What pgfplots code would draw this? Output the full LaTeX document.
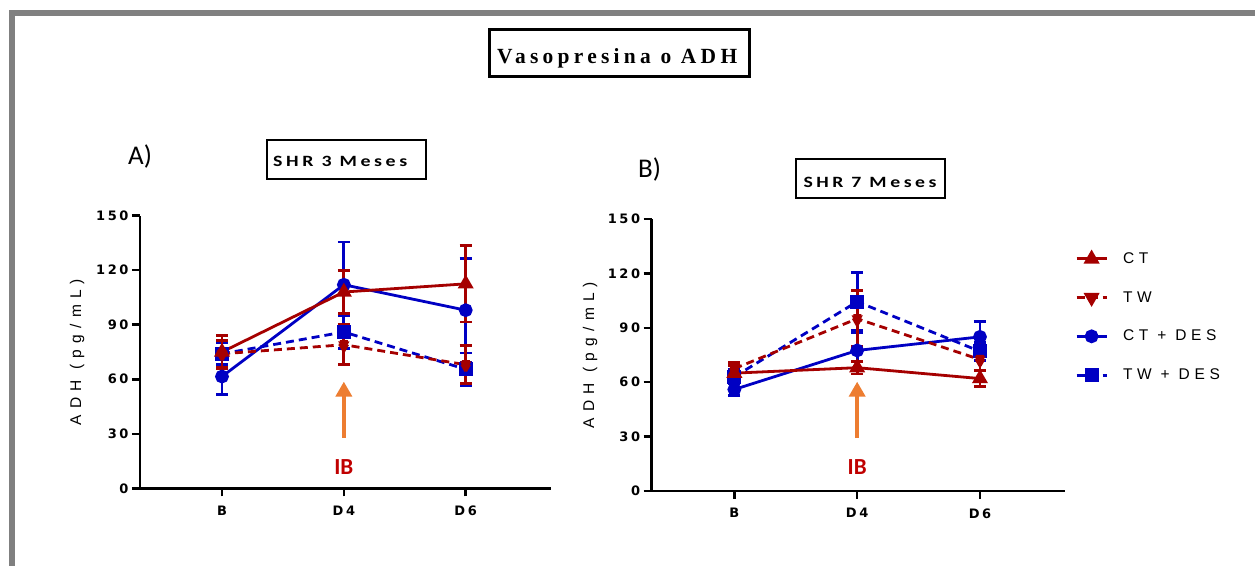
\documentclass[border=0pt]{standalone}
\usepackage{fontspec}
\setmainfont{Liberation Sans}
\usepackage{graphicx}
\usepackage{pgfplots}
\pgfplotsset{compat=1.18}
\usetikzlibrary{arrows.meta}
\newfontfamily\tickf[LetterSpace=20]{DejaVu Sans}
\newfontfamily\labf[LetterSpace=40]{Liberation Sans}
\newfontfamily\legf[LetterSpace=30]{Liberation Sans}
\newfontfamily\subf[LetterSpace=18]{Carlito}
\newfontfamily\calf{Carlito}
\newfontfamily\titf[LetterSpace=20]{Liberation Serif}
\definecolor{cred}{RGB}{165,0,0}
\definecolor{cblue}{RGB}{0,0,195}
\definecolor{corange}{RGB}{237,125,49}
\definecolor{ibred}{RGB}{192,0,0}
\definecolor{fgray}{RGB}{128,128,128}
\pgfplotsset{
 panel/.style={
   scale only axis, clip=false,
   axis lines=left,
   axis line style={line width=2.8bp, -},
   ymin=0, ymax=150, xmin=-0.673,
   xtick={0,1,2}, xticklabels={B,D4,D6},
   ytick={0,30,60,90,120,150},
   tick align=outside,
   major tick length=8bp,
   tick style={line width=2.5bp, black},
   tick label style={font=\tickf\bfseries\fontsize{13bp}{14bp}\selectfont, text=black},
   xticklabel style={yshift=-6bp},
   /pgf/number format/assume math mode=true,
   ylabel={ADH (pg/mL)},
   ylabel style={at={(axis description cs:#1,0.5)}, anchor=center, font=\labf\fontsize{15.5bp}{15.5bp}\selectfont},
 },
 ser/.style={line width=2.8bp, mark options={solid},
   error bars/y dir=both, error bars/y explicit,
   error bars/error bar style={line width=2.8bp, solid},
   error bars/error mark options={rotate=90, mark size=6bp, line width=2.8bp, solid}},
}
\begin{document}
\begin{tikzpicture}[x=1bp,y=1bp]
\useasboundingbox (0,0) rectangle (1255,566);
\coordinate (PA) at (140,77.7);
\coordinate (PB) at (651.7,75);
\coordinate (PL) at (1075,314.5);
% frame
\draw[fgray, line width=6bp] (12,0) -- (12,553) -- (1255,553);
% main title
\draw[line width=3bp] (489,536) rectangle (749,489);
\node[anchor=base west, inner sep=0pt] at (497,502.7) {\resizebox{240bp}{15bp}{\titf\bfseries Vasopresina o ADH}};
% panel labels
\node[anchor=base west, inner sep=0pt, font=\calf\fontsize{27bp}{27bp}\selectfont] at (128,401) {A)};
\node[anchor=base west, inner sep=0pt, font=\calf\fontsize{27bp}{27bp}\selectfont] at (638,388) {B)};
% subtitles
\draw[line width=2bp] (267.3,426) rectangle (426,386.7);
\node[anchor=base west, inner sep=0pt] at (273,399.3) {\resizebox{134bp}{10.3bp}{\subf\bfseries SHR 3 Meses}};
\draw[line width=2bp] (795.7,407) rectangle (945,367.7);
\node[anchor=base west, inner sep=0pt] at (803.3,378.7) {\resizebox{133bp}{10.3bp}{\subf\bfseries SHR 7 Meses}};

% ---------------- Panel A
\begin{axis}[panel=-0.153, at={(PA)}, anchor=south west,
  width=411bp, height=272.6bp, xmax=2.70]
\addplot[ser, cblue, mark=*, mark size=5.5bp] coordinates {
 (0,61.5) +- (0,10) (1,112) +- (0,23.5) (2,98) +- (0,28.5)};
\addplot[ser, cblue, dash pattern=on 8bp off 5bp, mark=square*, mark size=5.5bp] coordinates {
 (0,74) +- (0,6) (1,86) +- (0,9) (2,65.5) +- (0,9)};
\addplot[ser, cred, dash pattern=on 8bp off 5bp, mark=triangle*, mark size=6.5bp, mark options={rotate=180}] coordinates {
 (0,74) +- (0,7.5) (1,79) +- (0,11) (2,68) +- (0,10.5)};
\addplot[ser, cred, mark=triangle*, mark size=6.5bp] coordinates {
 (0,75) +- (0,9) (1,108) +- (0,12) (2,112.5) +- (0,21)};
\draw[corange, line width=4bp, -{Triangle[width=16bp,length=15bp]}] (axis cs:1,27.7) -- (axis cs:1,58.7);
\node[text=ibred, font=\calf\bfseries\fontsize{23bp}{23bp}\selectfont] at (axis cs:1,11.9) {IB};
\end{axis}

% ---------------- Panel B
\begin{axis}[panel=-0.149, at={(PB)}, anchor=south west,
  width=413bp, height=272bp, xmax=2.69]
\addplot[ser, cblue, mark=*, mark size=5.5bp] coordinates {
 (0,56) +- (0,3.5) (1,77.5) +- (0,10) (2,85) +- (0,8.3)};
\addplot[ser, cblue, dash pattern=on 8bp off 5bp, mark=square*, mark size=5.5bp] coordinates {
 (0,63) +- (0,4) (1,104.4) +- (0,16) (2,77) +- (0,5)};
\addplot[ser, cred, mark=triangle*, mark size=6.5bp] coordinates {
 (0,65) +- (0,4) (1,68) +- (0,3.5) (2,62) +- (0,4.3)};
\addplot[ser, cred, dash pattern=on 8bp off 5bp, mark=triangle*, mark size=6.5bp, mark options={rotate=180}] coordinates {
 (0,67.5) +- (0,3.5) (1,95) +- (0,15.5) (2,72.5) +- (0,11.7)};
\draw[corange, line width=4bp, -{Triangle[width=16bp,length=15bp]}] (axis cs:1,29.2) -- (axis cs:1,60.3);
\node[text=ibred, font=\calf\bfseries\fontsize{23bp}{23bp}\selectfont] at (axis cs:1,13.4) {IB};
\end{axis}

% ---------------- Legend
\begin{axis}[hide axis, scale only axis, width=1bp, height=1bp,
  xmin=0, xmax=1, ymin=0, ymax=1,
  at={(PL)}, anchor=north west,
  legend image code/.code={\draw[mark repeat=2,mark phase=2,#1] plot coordinates {(0bp,0bp)(15bp,0bp)(30bp,0bp)};},
  legend style={at={(0,1)}, anchor=north west, draw=none, fill=none,
    inner sep=0pt, row sep=24.5bp, column sep=14bp,
    font=\legf\fontsize{15.5bp}{15.5bp}\selectfont,
    nodes={inner sep=1bp}},
  legend cell align=left]
\addlegendimage{cred, line width=2.8bp, mark=triangle*, mark size=6.5bp, mark options={solid}}
\addlegendentry{CT}
\addlegendimage{cred, line width=2.8bp, dash pattern=on 8bp off 5bp, mark=triangle*, mark size=6.5bp, mark options={solid, rotate=180}}
\addlegendentry{TW}
\addlegendimage{cblue, line width=2.8bp, mark=*, mark size=5.5bp, mark options={solid}}
\addlegendentry{CT + DES}
\addlegendimage{cblue, line width=2.8bp, dash pattern=on 8bp off 5bp, mark=square*, mark size=5.5bp, mark options={solid}}
\addlegendentry{TW + DES}
\end{axis}
\end{tikzpicture}
\end{document}
